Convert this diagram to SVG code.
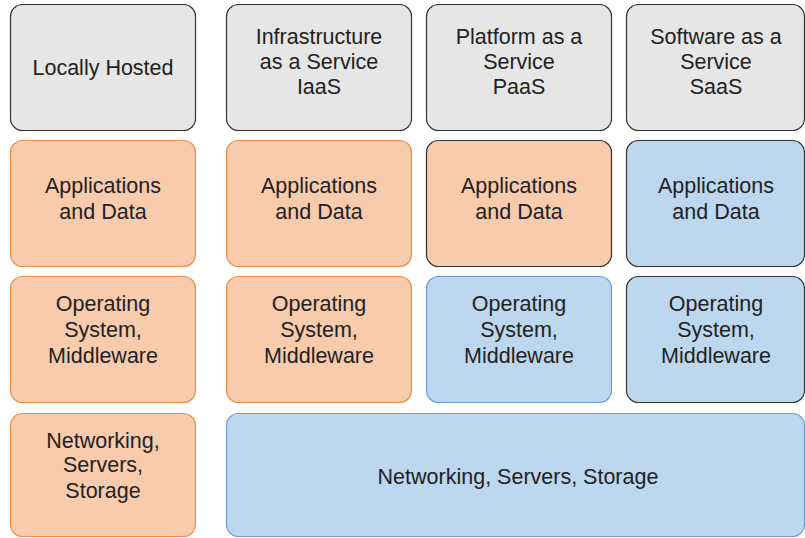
<svg xmlns="http://www.w3.org/2000/svg" width="805" height="538" viewBox="0 0 805 538">
<style>
rect{stroke-width:1.2}
.g{fill:#e6e6e6;stroke:#333333}
.o{fill:#f8cbad;stroke:#f08c44}
.od{fill:#f8cbad;stroke:#333333}
.b{fill:#bdd7ee;stroke:#6d9eda}
.bd{fill:#bdd7ee;stroke:#333333}
text{font-family:"Liberation Sans",Arial,Helvetica,sans-serif;font-size:21.5px;fill:#222222;text-anchor:middle}
</style>
<rect width="805" height="538" fill="#ffffff"/>
<g id="locally-hosted"><rect class="g" x="10.5" y="4.5" width="185" height="126" rx="12"/><text x="103" y="74.5">Locally Hosted</text></g>
<g id="iaas"><rect class="g" x="226.5" y="4.5" width="185" height="126" rx="12"/><text x="319" y="43.5">Infrastructure</text><text x="319" y="68.5">as a Service</text><text x="319" y="93.5">IaaS</text></g>
<g id="paas"><rect class="g" x="426.5" y="4.5" width="185" height="126" rx="12"/><text x="519" y="43.5">Platform as a</text><text x="519" y="68.5">Service</text><text x="519" y="93.5">PaaS</text></g>
<g id="saas"><rect class="g" x="626.5" y="4.5" width="178" height="126" rx="12"/><text x="716" y="43.5">Software as a</text><text x="716" y="68.5">Service</text><text x="716" y="93.5">SaaS</text></g>

<g id="apps-local"><rect class="o" x="10.5" y="140.5" width="185" height="126" rx="12"/><text x="103" y="193">Applications</text><text x="103" y="219">and Data</text></g>
<g id="apps-iaas"><rect class="o" x="226.5" y="140.5" width="185" height="126" rx="12"/><text x="319" y="193">Applications</text><text x="319" y="219">and Data</text></g>
<g id="apps-paas"><rect class="od" x="426.5" y="140.5" width="185" height="126" rx="12"/><text x="519" y="193">Applications</text><text x="519" y="219">and Data</text></g>
<g id="apps-saas"><rect class="bd" x="626.5" y="140.5" width="178" height="126" rx="12"/><text x="716" y="193">Applications</text><text x="716" y="219">and Data</text></g>

<g id="os-local"><rect class="o" x="10.5" y="276.5" width="185" height="126" rx="12"/><text x="103" y="310.5">Operating</text><text x="103" y="336.5">System,</text><text x="103" y="362.5">Middleware</text></g>
<g id="os-iaas"><rect class="o" x="226.5" y="276.5" width="185" height="126" rx="12"/><text x="319" y="310.5">Operating</text><text x="319" y="336.5">System,</text><text x="319" y="362.5">Middleware</text></g>
<g id="os-paas"><rect class="b" x="426.5" y="276.5" width="185" height="126" rx="12"/><text x="519" y="310.5">Operating</text><text x="519" y="336.5">System,</text><text x="519" y="362.5">Middleware</text></g>
<g id="os-saas"><rect class="bd" x="626.5" y="276.5" width="178" height="126" rx="12"/><text x="716" y="310.5">Operating</text><text x="716" y="336.5">System,</text><text x="716" y="362.5">Middleware</text></g>

<g id="net-local"><rect class="o" x="10.5" y="413.5" width="185" height="123" rx="12"/><text x="103" y="447.5">Networking,</text><text x="103" y="472">Servers,</text><text x="103" y="498">Storage</text></g>
<g id="net-cloud"><rect class="b" x="226.5" y="413.5" width="578" height="123" rx="12"/><text x="518" y="483.5">Networking, Servers, Storage</text></g>
<g id="connectors"/>
</svg>
